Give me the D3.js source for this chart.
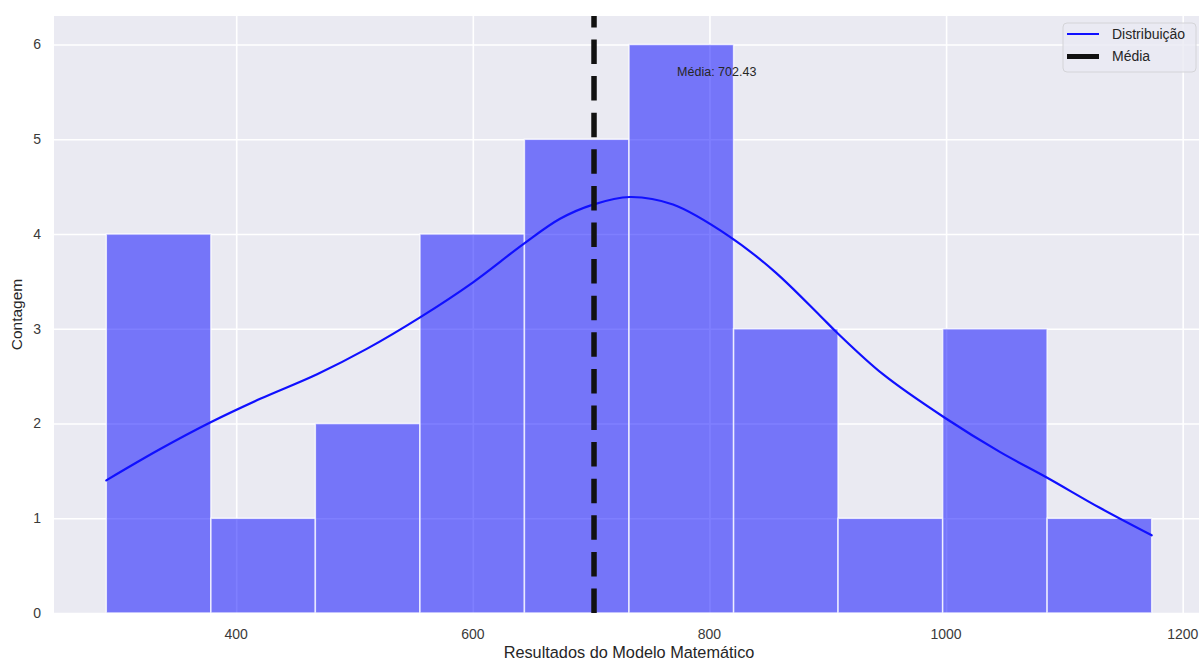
<!DOCTYPE html>
<html>
<head>
<meta charset="utf-8">
<script src="https://cdn.jsdelivr.net/npm/d3@7"></script>
<style>
  html, body { margin: 0; padding: 0; background: #ffffff; }
  svg { display: block; }
  text { font-family: "Liberation Sans", Arial, sans-serif; fill: #262626; }
</style>
</head>
<body>
<div id="chart"></div>
<script>
// Histogram bins (edges) and counts per bin
const binEdges = [290.2, 378.6, 466.9, 555.3, 643.6, 732.0, 820.4, 908.7, 997.1, 1085.4, 1173.8];
const binCounts = [4, 1, 2, 4, 5, 6, 3, 1, 3, 1];

// Density curve, scaled to counts
const kdeX = [290.2, 335.8, 378.0, 420.3, 468.4, 510.7, 555.4, 600.2, 642.4, 673.7, 701.6, 732.8, 769.2, 817.3, 855.3, 893.3, 907.7, 946.6, 998.9, 1045.4, 1085.1, 1129.9, 1173.8];
const kdeY = [1.40, 1.73, 2.01, 2.26, 2.52, 2.79, 3.12, 3.49, 3.89, 4.16, 4.31, 4.39, 4.31, 3.97, 3.60, 3.14, 2.96, 2.52, 2.06, 1.70, 1.43, 1.11, 0.82];

const meanValue = 702.43;
const xTicks = [400, 600, 800, 1000, 1200];
const yTicks = [0, 1, 2, 3, 4, 5, 6];
const xDomain = [246.0, 1218.0];
const yDomain = [0, 6.3];

const W = 1199, H = 664;
const plot = { left: 54, right: 1204, top: 16, bottom: 613 };

const svg = d3.select("#chart").append("svg")
  .attr("width", W).attr("height", H);

const x = d3.scaleLinear().domain(xDomain).range([plot.left, plot.right]);
const y = d3.scaleLinear().domain(yDomain).range([plot.bottom, plot.top]);

// Axes background
svg.append("rect")
  .attr("x", plot.left).attr("y", plot.top)
  .attr("width", plot.right - plot.left).attr("height", plot.bottom - plot.top)
  .attr("fill", "#eaeaf2");

// Grid
const gx = svg.append("g")
  .attr("transform", `translate(0,${plot.bottom})`)
  .call(d3.axisBottom(x).tickValues(xTicks).tickSize(-(plot.bottom - plot.top)).tickFormat(""));
const gy = svg.append("g")
  .attr("transform", `translate(${plot.left},0)`)
  .call(d3.axisLeft(y).tickValues(yTicks).tickSize(-(plot.right - plot.left)).tickFormat(""));
[gx, gy].forEach(g => {
  g.select(".domain").remove();
  g.selectAll(".tick line").attr("stroke", "#ffffff").attr("stroke-width", 1.6);
});

// Bars
const bins = binCounts.map((c, i) => ({ x0: binEdges[i], x1: binEdges[i + 1], count: c }));
svg.append("g").selectAll("rect").data(bins).join("rect")
  .attr("x", d => x(d.x0))
  .attr("y", d => y(d.count))
  .attr("width", d => x(d.x1) - x(d.x0))
  .attr("height", d => y(0) - y(d.count))
  .attr("fill", "#0000ff").attr("fill-opacity", 0.5)
  .attr("stroke", "#ffffff").attr("stroke-opacity", 0.75).attr("stroke-width", 1.5);

// Density line
const kde = kdeX.map((v, i) => [v, kdeY[i]]);
svg.append("path")
  .datum(kde)
  .attr("d", d3.line().x(d => x(d[0])).y(d => y(d[1])).curve(d3.curveCatmullRom.alpha(0.5)))
  .attr("fill", "none").attr("stroke", "#1010ff").attr("stroke-width", 2.2)
  .attr("stroke-linecap", "round");

// Mean line (dashes start from the bottom)
svg.append("line")
  .attr("x1", x(meanValue)).attr("x2", x(meanValue))
  .attr("y1", y(0)).attr("y2", plot.top)
  .attr("stroke", "#111111").attr("stroke-width", 5.5)
  .attr("stroke-dasharray", "24.5,12.1");

svg.append("text")
  .attr("x", x(meanValue * 1.1)).attr("y", y(5.7)).attr("dy", "0.25em")
  .style("font-size", "12.5px")
  .text(`Média: ${meanValue.toFixed(2)}`);

// Tick labels
svg.append("g").selectAll("text").data(xTicks).join("text")
  .attr("x", d => x(d)).attr("y", 639)
  .attr("text-anchor", "middle").style("font-size", "14px").style("fill", "#3a3a3a")
  .text(d => d);
svg.append("g").selectAll("text").data(yTicks).join("text")
  .attr("x", 41).attr("y", d => y(d)).attr("dy", "0.35em")
  .attr("text-anchor", "end").style("font-size", "14px").style("fill", "#3a3a3a")
  .text(d => d);

// Axis titles
svg.append("text")
  .attr("x", (plot.left + plot.right) / 2).attr("y", 658)
  .attr("text-anchor", "middle").style("font-size", "16.3px")
  .text("Resultados do Modelo Matemático");
svg.append("text")
  .attr("transform", `translate(22,${(plot.top + plot.bottom) / 2}) rotate(-90)`)
  .attr("text-anchor", "middle").style("font-size", "15.5px")
  .text("Contagem");

// Legend
const lg = svg.append("g").attr("transform", "translate(1063,23)");
lg.append("rect")
  .attr("width", 133).attr("height", 49).attr("rx", 4)
  .attr("fill", "#eaeaf2").attr("fill-opacity", 0.8)
  .attr("stroke", "#d4d4d8").attr("stroke-width", 1);
const legendItems = [
  { label: "Distribuição", color: "#1010ff", width: 2 },
  { label: "Média", color: "#111111", width: 5 }
];
legendItems.forEach((d, i) => {
  const yy = 11 + i * 22.5;
  lg.append("line").attr("x1", 4).attr("x2", 36).attr("y1", yy).attr("y2", yy)
    .attr("stroke", d.color).attr("stroke-width", d.width);
  lg.append("text").attr("x", 49).attr("y", yy).attr("dy", "0.35em")
    .style("font-size", "14px").text(d.label);
});
</script>
</body>
</html>
